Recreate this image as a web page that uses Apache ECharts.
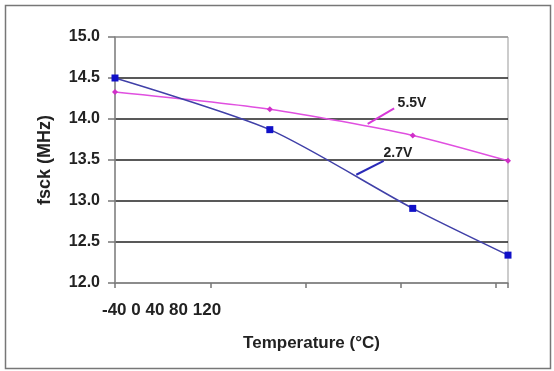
<!DOCTYPE html>
<html>
<head>
<meta charset="UTF-8">
<title>fsck vs Temperature</title>
<style type="text/css">
html, body {
	margin: 0;
	padding: 0;
	background: #fff;
}
#chart {
	width: 554px;
	height: 371px;
}
</style>
</head>
<body>
	<div id="chart"></div>
<script type="text/javascript" src="https://cdn.jsdelivr.net/npm/echarts@6/dist/echarts.min.js"></script>
<script type="text/javascript">
	// 数据
	var temps = [ -40, 25, 85, 125 ];
	var v27 = [ 14.50, 13.87, 12.91, 12.34 ];
	var v55 = [ 14.33, 14.12, 13.80, 13.49 ];
	var xTickLabels = [ '-40', '0', '40', '80', '120' ];
	var seriesNames = [ '2.7V', '5.5V' ];

	// 标注线（数据坐标）
	var note55 = { from : [ 77.2, 14.13 ], to : [ 66.1, 13.94 ], text : [ 84.7, 14.19 ] };
	var note27 = { from : [ 72.8, 13.49 ], to : [ 61.3, 13.32 ], text : [ 78.8, 13.58 ] };

	var font = 'Liberation Sans, Arial, sans-serif';

	function pairs(xs, ys) {
		var out = [];
		for (var i = 0; i < xs.length; i++) {
			out.push([ xs[i], ys[i] ]);
		}
		return out;
	}

	function note(n, name, color) {
		return {
			markLine : {
				silent : true,
				symbol : [ 'none', 'none' ],
				label : { show : false },
				lineStyle : { color : color, width : 2, type : 'solid' },
				data : [ [ { coord : n.from }, { coord : n.to } ] ]
			},
			markPoint : {
				silent : true,
				symbol : 'circle',
				symbolSize : 0,
				label : {
					show : true,
					position : 'inside',
					formatter : name,
					color : '#222',
					fontFamily : font,
					fontWeight : 'bold',
					fontSize : 14
				},
				data : [ { coord : n.text } ]
			}
		};
	}

	var chart = echarts.init(document.getElementById('chart'));

	var s27 = {
		name : seriesNames[0],
		type : 'line',
		smooth : 0.25,
		data : pairs(temps, v27),
		symbol : 'rect',
		symbolSize : 7,
		itemStyle : { color : '#1010c8' },
		lineStyle : { color : '#4040a8', width : 1.5 },
		animation : false,
		z : 3
	};
	var n27 = note(note27, seriesNames[0], '#2a2ab8');
	s27.markLine = n27.markLine;
	s27.markPoint = n27.markPoint;

	var s55 = {
		name : seriesNames[1],
		type : 'line',
		smooth : 0.25,
		data : pairs(temps, v55),
		symbol : 'diamond',
		symbolSize : 6,
		itemStyle : { color : '#d030c8' },
		lineStyle : { color : '#e050e0', width : 1.5 },
		animation : false,
		z : 2
	};
	var n55 = note(note55, seriesNames[1], '#d838d8');
	s55.markLine = n55.markLine;
	s55.markPoint = n55.markPoint;

	var option = {
		animation : false,
		backgroundColor : '#fff',
		grid : {
			left : 115,
			right : 46,
			top : 37,
			bottom : 88,
			show : true,
			borderColor : '#999',
			borderWidth : 1
		},
		xAxis : {
			type : 'value',
			min : -40,
			max : 125,
			interval : 40,
			name : 'Temperature (°C)',
			nameLocation : 'middle',
			nameGap : 52,
			nameTextStyle : {
				color : '#222',
				fontFamily : font,
				fontWeight : 'bold',
				fontSize : 17
			},
			axisLine : { show : true, onZero : false, lineStyle : { color : '#888', width : 1.5 } },
			axisTick : { show : true, length : 5, lineStyle : { color : '#777', width : 1.5 } },
			axisLabel : { show : false },
			splitLine : { show : false }
		},
		yAxis : {
			type : 'value',
			min : 12,
			max : 15,
			interval : 0.5,
			name : 'fsck (MHz)',
			nameLocation : 'middle',
			nameRotate : 90,
			nameGap : 61,
			nameTextStyle : {
				color : '#222',
				fontFamily : font,
				fontWeight : 'bold',
				fontSize : 18
			},
			axisLine : { show : true, onZero : false, lineStyle : { color : '#888', width : 1.5 } },
			axisTick : { show : true, length : 7, lineStyle : { color : '#777', width : 1.5 } },
			axisLabel : {
				margin : 15,
				color : '#222',
				fontFamily : font,
				fontWeight : 'bold',
				fontSize : 16,
				formatter : function(v) {
					return v.toFixed(1);
				}
			},
			splitLine : {
				show : true,
				lineStyle : {
					color : [ '#888', '#222', '#222', '#222', '#222', '#222', '#999' ],
					width : 1.5
				}
			}
		},
		graphic : [ {
			type : 'rect',
			shape : { x : 5.5, y : 5.5, width : 545, height : 363 },
			style : { fill : 'none', stroke : '#777', lineWidth : 1.5 },
			silent : true
		}, {
			// 原图的横轴刻度文字挤在左侧
			type : 'text',
			left : 102,
			top : 302,
			style : {
				text : xTickLabels.join(' '),
				fill : '#222',
				font : 'bold 17px ' + font
			},
			silent : true
		} ],
		series : [ s27, s55 ]
	};

	chart.setOption(option);
</script>
</body>
</html>
